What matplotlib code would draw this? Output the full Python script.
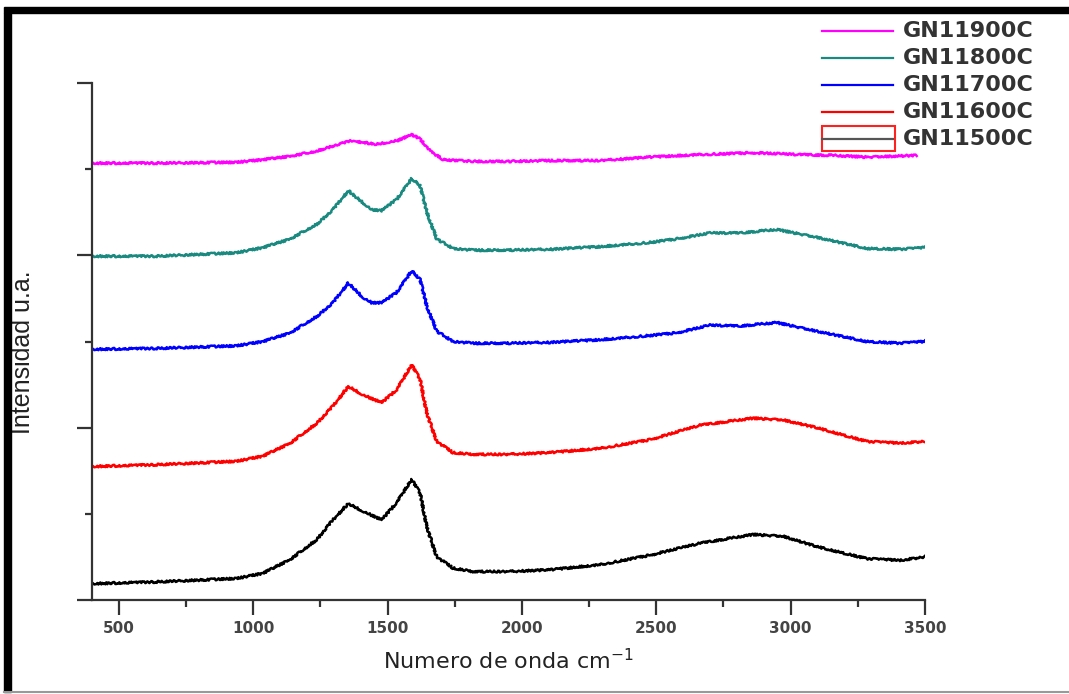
import matplotlib
matplotlib.use("Agg")
import matplotlib.pyplot as plt
from matplotlib.lines import Line2D
from matplotlib.patches import Rectangle
from matplotlib.ticker import MultipleLocator

# ---- data ----
names = ["GN11900C", "GN11800C", "GN11700C", "GN11600C", "GN11500C"]
colors = ["#FF00FF", "#1A8A80", "#0000FF", "#FF0000", "#000000"]

x_900 = [405, 641, 938, 1036, 1137, 1236, 1297, 1366, 1409, 1459, 1534, 1590, 1621,
         1658, 1707, 1818, 1943, 2104, 2290, 2477, 2663, 2861, 3035, 3159, 3283, 3469]
y_900 = [5.07, 5.07, 5.08, 5.11, 5.15, 5.21, 5.27, 5.33, 5.31, 5.29, 5.33, 5.40, 5.35,
         5.21, 5.11, 5.09, 5.09, 5.10, 5.10, 5.14, 5.17, 5.19, 5.17, 5.16, 5.14, 5.16]

x_800 = [405, 641, 938, 1036, 1137, 1236, 1297, 1354, 1409, 1441, 1478, 1534, 1590, 1621,
         1646, 1683, 1744, 1818, 1943, 2104, 2290, 2477, 2576, 2700, 2811, 2948, 3097,
         3283, 3407, 3500]
y_800 = [3.99, 3.99, 4.03, 4.09, 4.19, 4.36, 4.53, 4.75, 4.61, 4.53, 4.52, 4.65, 4.89, 4.81,
         4.50, 4.19, 4.08, 4.06, 4.06, 4.07, 4.10, 4.15, 4.19, 4.26, 4.26, 4.30, 4.21,
         4.08, 4.07, 4.09]

x_700 = [405, 641, 938, 1036, 1137, 1236, 1297, 1354, 1409, 1441, 1478, 1534, 1590, 1621,
         1646, 1683, 1744, 1818, 1943, 2104, 2290, 2477, 2576, 2700, 2811, 2948, 3097,
         3283, 3407, 3500]
y_700 = [2.91, 2.92, 2.95, 3.00, 3.10, 3.29, 3.45, 3.68, 3.51, 3.45, 3.45, 3.57, 3.82, 3.72,
         3.41, 3.12, 3.00, 2.98, 2.98, 2.99, 3.02, 3.07, 3.10, 3.19, 3.18, 3.22, 3.12,
         3.00, 2.98, 3.00]

x_600 = [405, 641, 938, 1036, 1137, 1236, 1297, 1354, 1409, 1478, 1534, 1590, 1621, 1646,
         1683, 1744, 1818, 1943, 2104, 2290, 2477, 2663, 2860, 2972, 3097, 3283, 3407, 3500]
y_600 = [1.55, 1.57, 1.61, 1.67, 1.82, 2.05, 2.25, 2.48, 2.38, 2.29, 2.44, 2.73, 2.56, 2.17,
         1.84, 1.71, 1.69, 1.69, 1.71, 1.76, 1.86, 2.03, 2.11, 2.09, 2.00, 1.84, 1.82, 1.84]

x_500 = [405, 641, 938, 1036, 1137, 1236, 1297, 1354, 1409, 1478, 1534, 1590, 1621, 1646,
         1683, 1744, 1818, 1943, 2104, 2290, 2477, 2663, 2860, 2972, 3097, 3283, 3407, 3500]
y_500 = [0.19, 0.21, 0.25, 0.31, 0.47, 0.70, 0.93, 1.12, 1.03, 0.93, 1.13, 1.40, 1.24, 0.85,
         0.50, 0.37, 0.33, 0.33, 0.35, 0.41, 0.52, 0.66, 0.76, 0.74, 0.62, 0.48, 0.46, 0.50]

series_x = [x_900, x_800, x_700, x_600, x_500]
series_y = [y_900, y_800, y_700, y_600, y_500]

xticks = [500, 1000, 1500, 2000, 2500, 3000, 3500]

# ---- figure ----
W, H = 1069, 694
fig = plt.figure(figsize=(W / 100, H / 100), dpi=100)
ax = fig.add_axes([92 / W, 1 - 600 / H, (925 - 92) / W, (600 - 83) / H])

for xs, ys, c in zip(series_x, series_y, colors):
    ln, = ax.plot(xs, ys, color=c, lw=1.8, solid_joinstyle="round")
    ln.set_sketch_params(scale=1.0, length=2.0, randomness=3.0)

ax.set_xlim(400, 3500)
ax.set_ylim(0, 6)
ax.set_xticks(xticks)
ax.set_xticklabels([str(t) for t in xticks])
ax.xaxis.set_minor_locator(MultipleLocator(250))
ax.yaxis.set_major_locator(MultipleLocator(2))
ax.yaxis.set_minor_locator(MultipleLocator(1))
ax.set_yticklabels([])

for s in ["top", "right"]:
    ax.spines[s].set_visible(False)
for s in ["left", "bottom"]:
    ax.spines[s].set_linewidth(1.6)
    ax.spines[s].set_color("#333333")

ax.tick_params(axis="both", which="major", direction="out", length=11, width=1.6,
               color="#333333")
ax.tick_params(axis="both", which="minor", direction="out", length=5, width=1.6,
               color="#333333")
ax.tick_params(axis="x", which="major", pad=4)
for lab in ax.get_xticklabels():
    lab.set_fontfamily("DejaVu Sans")
    lab.set_fontweight("bold")
    lab.set_fontsize(11)
    lab.set_color("#444444")

ax.set_xlabel("Numero de onda cm$^{-1}$", fontsize=16, color="#222222",
              fontfamily="DejaVu Sans")
ax.xaxis.set_label_coords(0.5, (600 - 648) / 517)
ax.set_ylabel("Intensidad u.a.", fontsize=18, color="#222222",
              fontfamily="Liberation Sans")
ax.yaxis.set_label_coords((35 - 92) / 833, (600 - 352) / 517)

# ---- legend (manual, outside axes, top right) ----
leg_y = [31, 58, 85, 112, 139]
for name, c, yy in zip(names, colors, leg_y):
    lc = c if name != "GN11500C" else "#555555"
    fig.add_artist(Line2D([822 / W, 893 / W], [1 - yy / H, 1 - yy / H], color=lc,
                          lw=1.6, transform=fig.transFigure))
    fig.text(903 / W, 1 - yy / H, name, fontsize=16, fontweight="bold",
             fontfamily="DejaVu Sans", color="#333333", va="center", ha="left")
fig.add_artist(Rectangle((822 / W, 1 - 151 / H), (895 - 822) / W, (151 - 126) / H,
                         fill=False, edgecolor="#FF2020", lw=1.5,
                         transform=fig.transFigure))

# ---- outer frame ----
fig.add_artist(Rectangle((4 / W, 1 - 13 / H), 1 - 4 / W, 6 / H, color="black",
                         transform=fig.transFigure))
fig.add_artist(Rectangle((4 / W, 2 / H), 7 / W, 1 - 15 / H, color="black",
                         transform=fig.transFigure))
fig.add_artist(Line2D([4 / W, 1], [2 / H, 2 / H], color="#999999", lw=1.5,
                      transform=fig.transFigure))

fig.savefig("out.png", dpi=100)
